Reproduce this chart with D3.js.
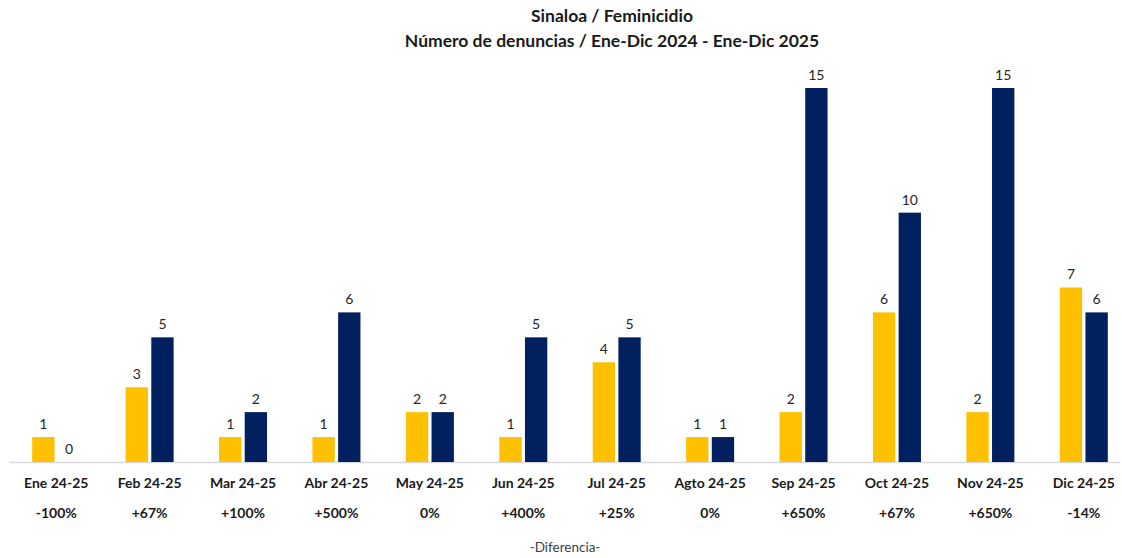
<!DOCTYPE html>
<html>
<head>
<meta charset="utf-8">
<script src="https://cdn.jsdelivr.net/npm/d3@7"></script>
<style>
  body { margin: 0; background: #fff; }
  text { font-family: Lato, "Open Sans", sans-serif; }
</style>
</head>
<body>
<div id="chart"></div>
<script>
// data
var months = ["Ene 24-25", "Feb 24-25", "Mar 24-25", "Abr 24-25", "May 24-25", "Jun 24-25",
              "Jul 24-25", "Agto 24-25", "Sep 24-25", "Oct 24-25", "Nov 24-25", "Dic 24-25"];
var values2024 = [1, 3, 1, 1, 2, 1, 4, 1, 2, 6, 2, 7];
var values2025 = [0, 5, 2, 6, 2, 5, 5, 1, 15, 10, 15, 6];
var diffLabels = ["-100%", "+67%", "+100%", "+500%", "0%", "+400%",
                  "+25%", "0%", "+650%", "+67%", "+650%", "-14%"];
var seriesKeys = ["2024", "2025"];
var colors = {"2024": "#FFC000", "2025": "#002060"};

var W = 1122, H = 558;
var margin = {top: 60, left: 9.5, right: -8.5, bottom: 96};
var width = W - margin.left - margin.right,
    height = H - margin.top - margin.bottom;

var svg = d3.select("#chart")
  .append("svg")
    .attr("width", W)
    .attr("height", H);

var g = svg.append("g")
  .attr("transform", "translate(" + margin.left + "," + margin.top + ")");

var x0 = d3.scaleBand()
  .domain(months)
  .range([0, width]);

var x1 = d3.scaleBand()
  .domain(seriesKeys)
  .range([x0.bandwidth() / 2 - 24, x0.bandwidth() / 2 + 24])
  .paddingInner(0.13);

var y = d3.scaleLinear()
  .domain([0, 15])
  .range([height, height - 374]);

var rows = months.map(function(m, i) {
  return {month: m, diff: diffLabels[i],
          vals: [{key: "2024", v: values2024[i]}, {key: "2025", v: values2025[i]}]};
});

// baseline
g.append("line")
  .attr("x1", 0)
  .attr("x2", W - margin.left - 2)
  .attr("y1", y(0) + 0.5)
  .attr("y2", y(0) + 0.5)
  .attr("stroke", "#d9d9d9")
  .attr("stroke-width", 1.5);

var groups = g.selectAll(".grp")
  .data(rows)
  .enter()
  .append("g")
    .attr("class", "grp")
    .attr("transform", function(d) { return "translate(" + x0(d.month) + ",0)"; });

groups.selectAll("rect")
  .data(function(d) { return d.vals; })
  .enter()
  .append("rect")
    .attr("x", function(d) { return x1(d.key); })
    .attr("width", x1.bandwidth())
    .attr("y", function(d) { return y(d.v); })
    .attr("height", function(d) { return y(0) - y(d.v); })
    .style("fill", function(d) { return colors[d.key]; });

// value labels
groups.selectAll(".val")
  .data(function(d) { return d.vals; })
  .enter()
  .append("text")
    .attr("class", "val")
    .attr("x", function(d) { return x1(d.key) + x1.bandwidth() / 2; })
    .attr("y", function(d) { return y(d.v) - 8; })
    .attr("text-anchor", "middle")
    .style("font-size", "14px")
    .style("fill", "#262626")
    .text(function(d) { return d.v; });

// category labels
groups.append("text")
  .attr("x", x0.bandwidth() / 2)
  .attr("y", height + 26)
  .attr("text-anchor", "middle")
  .style("font-size", "14px")
  .style("font-weight", "bold")
  .style("fill", "#1a1a1a")
  .text(function(d) { return d.month; });

// difference row
groups.append("text")
  .attr("x", x0.bandwidth() / 2)
  .attr("y", height + 56)
  .attr("text-anchor", "middle")
  .style("font-size", "14px")
  .style("font-weight", "bold")
  .style("fill", "#1a1a1a")
  .text(function(d) { return d.diff; });

svg.append("text")
  .attr("x", 565)
  .attr("y", 552)
  .attr("text-anchor", "middle")
  .style("font-size", "13.5px")
  .style("fill", "#404040")
  .text("-Diferencia-");

// title
svg.append("text")
  .attr("x", 612)
  .attr("y", 22)
  .attr("text-anchor", "middle")
  .style("font-size", "17.5px")
  .style("font-weight", "bold")
  .style("fill", "#1a1a1a")
  .text("Sinaloa / Feminicidio");

svg.append("text")
  .attr("x", 612)
  .attr("y", 47)
  .attr("text-anchor", "middle")
  .style("font-size", "17.5px")
  .style("font-weight", "bold")
  .style("fill", "#1a1a1a")
  .text("Número de denuncias / Ene-Dic 2024 - Ene-Dic 2025");
</script>
</body>
</html>
